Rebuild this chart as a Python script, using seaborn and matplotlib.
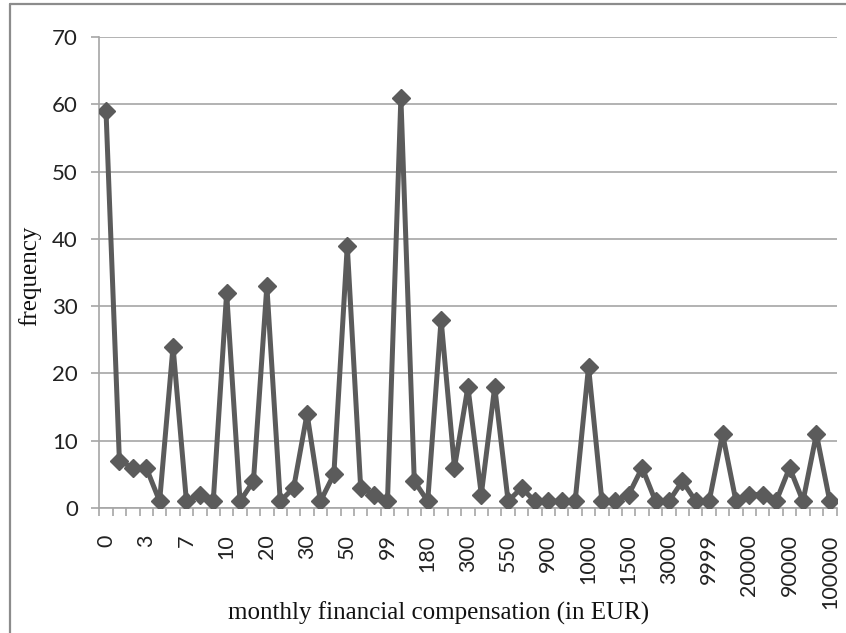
import numpy as np
import pandas as pd
import matplotlib
matplotlib.use("Agg")
import matplotlib.pyplot as plt
from matplotlib.lines import Line2D
import seaborn as sns

# ---- data ----
frequency = [59, 7, 6, 6, 1, 24, 1, 2, 1, 32,
             1, 4, 33, 1, 3, 14, 1, 5, 39, 3,
             2, 1, 61, 4, 1, 28, 6, 18, 2, 18,
             1, 3, 1, 1, 1, 1, 21, 1, 1, 2,
             6, 1, 1, 4, 1, 1, 11, 1, 2, 2,
             1, 6, 1, 11, 1]
# labels shown on the axis (every third category)
shown_labels = ["0", "3", "7", "10", "20", "30", "50", "99", "180", "300",
                "550", "900", "1000", "1500", "3000", "9999", "20000",
                "90000", "100000"]
y_ticks = [0, 10, 20, 30, 40, 50, 60, 70]

df = pd.DataFrame({"idx": np.arange(len(frequency)), "freq": frequency})

sns.set_style("white")
plt.rcParams["font.family"] = ["Lato", "DejaVu Sans"]

W, H = 846, 633
fig = plt.figure(figsize=(W / 100, H / 100), dpi=100)
ax = fig.add_axes([99.3 / W, 1 - 508 / H, (836.5 - 99.3) / W, (508 - 37) / H])

line_col = "#5b5b5b"
grid_col = "#a6a6a6"

sns.lineplot(data=df, x="idx", y="freq", ax=ax, color=line_col,
             linewidth=3.6, marker="D", markersize=9.3,
             markeredgecolor=line_col, markeredgewidth=1, zorder=3)

n = len(frequency)
ax.set_xlim(-0.5, n - 0.5)
ax.set_ylim(0, 70)

# y axis
ax.set_yticks(y_ticks)
ax.set_yticklabels([str(v) for v in y_ticks], fontsize=16, color="#222222")
ax.yaxis.grid(True, color=grid_col, linewidth=1.2)
ax.set_axisbelow(True)

# x axis: labels at every third category centre, ticks at boundaries
major_pos = np.arange(0, n, 3)
ax.set_xticks(major_pos)
ax.set_xticklabels(shown_labels, rotation=90, fontsize=15.5, color="#222222")
ax.set_xticks(np.arange(-0.5, n, 1.0), minor=True)
ax.tick_params(axis="x", which="major", length=0, pad=19)
ax.tick_params(axis="x", which="minor", length=5.5, width=1.2, color=grid_col,
               direction="out", bottom=True)
ax.tick_params(axis="y", which="major", length=5.5, width=1.2, color=grid_col,
               direction="out", pad=10, left=True)

for s in ["top", "right"]:
    ax.spines[s].set_visible(False)
for s in ["left", "bottom"]:
    ax.spines[s].set_color(grid_col)
    ax.spines[s].set_linewidth(1.2)

ax.set_xlabel("monthly financial compensation (in EUR)",
              family=["Liberation Serif", "DejaVu Serif"], fontsize=18,
              color="#111111")
ax.set_ylabel("frequency", family=["Liberation Serif", "DejaVu Serif"],
              fontsize=18, color="#111111")
ax.xaxis.set_label_coords(439 / W, 1 - 613 / H, transform=fig.transFigure)
ax.xaxis.label.set_verticalalignment("center")
ax.yaxis.set_label_coords(30 / W, 1 - 276 / H, transform=fig.transFigure)
ax.yaxis.label.set_verticalalignment("center")

# chart-area frame (left and top edges visible)
frame_col = "#8c8c8c"
fig.add_artist(Line2D([10 / W, 10 / W], [0, 1 - 4 / H], color=frame_col,
                      linewidth=1.6, transform=fig.transFigure))
fig.add_artist(Line2D([10 / W, 1], [1 - 4 / H, 1 - 4 / H], color=frame_col,
                      linewidth=1.6, transform=fig.transFigure))

fig.savefig("out.png", dpi=100)
